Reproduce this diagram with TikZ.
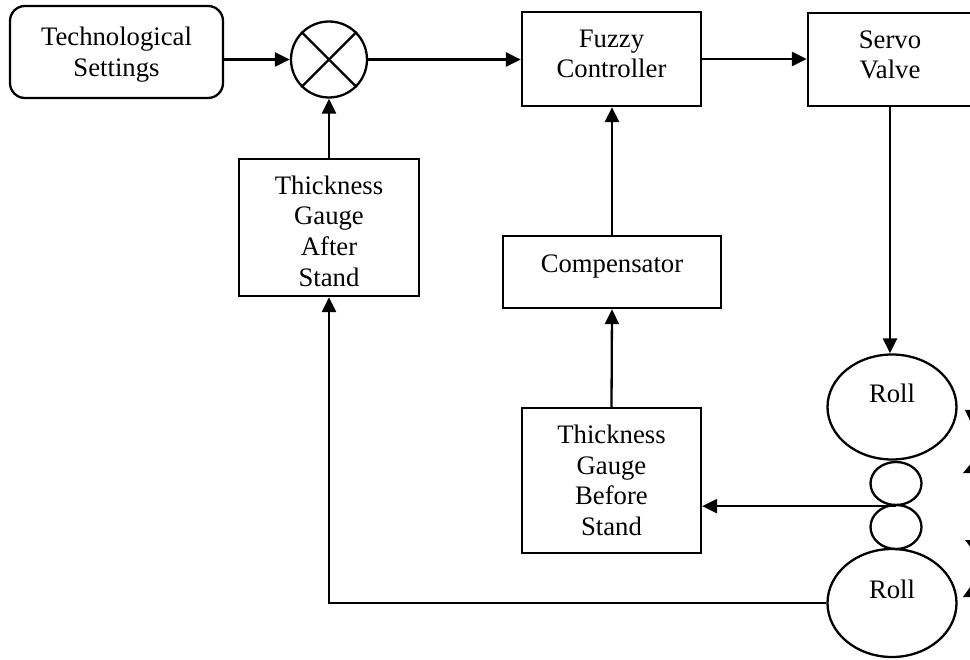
\documentclass[tikz,border=0pt]{standalone}
\usepackage{fontspec}
\setmainfont{Liberation Serif}
\usetikzlibrary{shapes.geometric,arrows.meta}

\begin{document}
\begin{tikzpicture}[x=1pt,y=-1pt,
  line width=2.3pt,
  every node/.style={font=\fontsize{26.7}{30.7}\selectfont},
  blk/.style={draw, rectangle, inner sep=0pt},
  txt/.style={align=center, inner sep=0pt},
  flow/.style={-{Triangle[length=15pt,width=14pt]}},
  rollshape/.style={draw, ellipse, inner sep=0pt},
]
\useasboundingbox (0,0) rectangle (970,660);
\clip (0,0) rectangle (970,660);

% control blocks
\node[blk, rounded corners=15pt, minimum width=213pt, minimum height=92pt,
      label={[txt, yshift=-2.6pt]center:{Technological\\Settings}}] (tech) at (116.5,52) {};
\node[draw, circle, minimum size=76pt, inner sep=0pt] (sum) at (329,59.5) {};
\draw (sum.north west) -- (sum.south east);
\draw (sum.north east) -- (sum.south west);

\node[blk, minimum width=179pt, minimum height=94pt,
      label={[txt, yshift=5pt]center:{Fuzzy\\Controller}}] (fuzzy) at (611.5,59) {};
\node[blk, minimum width=164pt, minimum height=93pt,
      label={[txt, yshift=4.5pt]center:{Servo\\Valve}}] (servo) at (890,59.5) {};

\node[blk, minimum width=180pt, minimum height=137pt,
      label={[txt, yshift=-3.5pt]center:{Thickness\\Gauge\\After\\Stand}}] (after) at (329,227.5) {};
\node[blk, minimum width=218pt, minimum height=72pt,
      label={[txt, yshift=5pt]center:{Compensator}}] (comp) at (612,272) {};
\node[blk, minimum width=179pt, minimum height=145pt,
      label={[txt, yshift=0pt]center:{Thickness\\Gauge\\Before\\Stand}}] (before) at (611.5,480.5) {};

% roll stand
\node[rollshape, minimum width=129pt, minimum height=105pt,
      label={[txt, yshift=13.5pt]center:{Roll}}] (roll1) at (892,407) {};
\node[rollshape, minimum width=51pt, minimum height=43pt] (strip1) at (896,483.5) {};
\node[rollshape, minimum width=51pt, minimum height=44pt] (strip2) at (896,527) {};
\node[rollshape, minimum width=129pt, minimum height=108pt,
      label={[txt, yshift=14pt]center:{Roll}}] (roll2) at (892,603) {};

% roll force arrowheads at the edge
\fill (965,410) -- (981,410) -- (973,427) -- cycle;
\fill (963,473) -- (983,473) -- (973,461) -- cycle;
\fill (965,540) -- (983,540) -- (974,552) -- cycle;
\fill (963,597) -- (983,597) -- (973,583) -- cycle;

% signal flow
\draw[flow] (tech.east |- sum.west) -- (sum.west);
\draw[flow] (sum.east) -- (sum.east -| fuzzy.west);
\draw[flow] (fuzzy.east) -- (fuzzy.east -| servo.west);
\draw[flow] (servo.south) -- (servo.south |- roll1.north);
\draw[flow] (strip1.south) -- (before.east |- strip1.south);
\draw[flow] (before.north) -- (comp.south);
\draw[flow] (comp.north) -- (comp.north |- fuzzy.south);
\draw[flow] (roll2.west) -| (after.south);
\draw[flow] (after.north) -- (sum.south);
\end{tikzpicture}
\end{document}
